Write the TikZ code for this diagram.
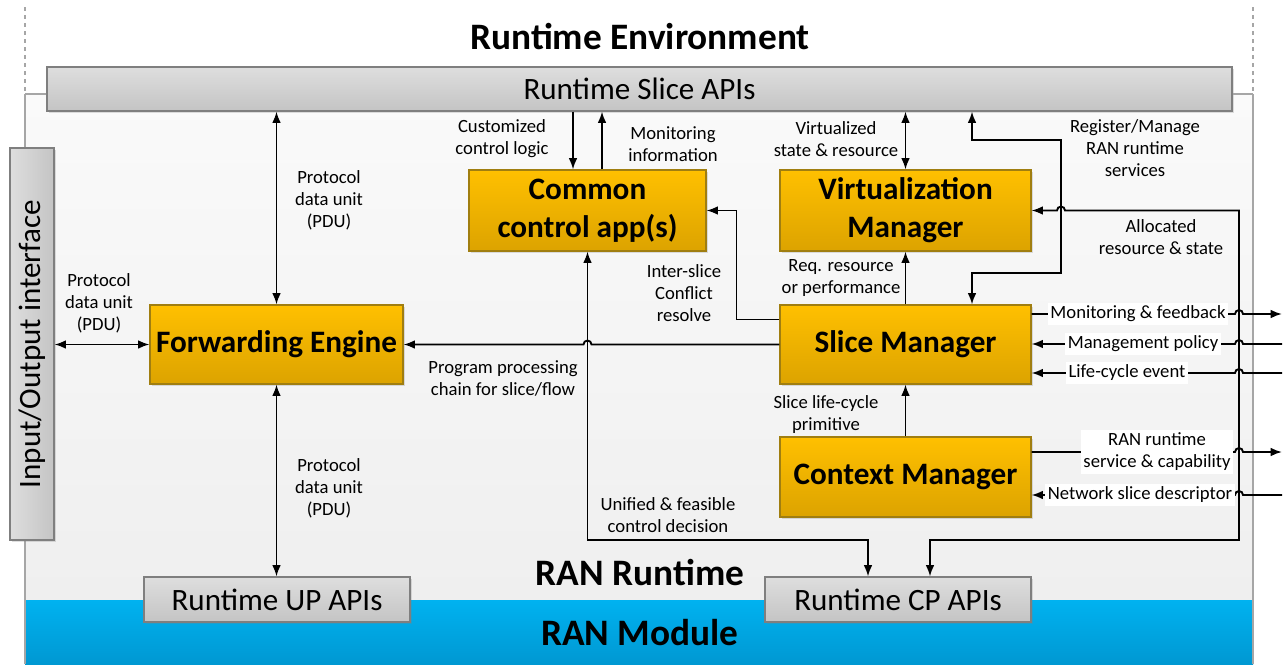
\documentclass[tikz,border=0pt]{standalone}
\usepackage{fontspec}
\setmainfont{Carlito}
\usetikzlibrary{arrows.meta,calc,shadows}

\definecolor{boxtop}{HTML}{FFC000}
\definecolor{boxbot}{HTML}{DCA300}
\definecolor{boxline}{HTML}{A07E10}
\definecolor{apitop}{HTML}{DEDEDE}
\definecolor{apibot}{HTML}{C4C4C4}
\definecolor{apiline}{HTML}{7F7F7F}
\definecolor{modtop}{HTML}{00B2F0}
\definecolor{modbot}{HTML}{0098D2}
\definecolor{rttop}{HTML}{FAFAFA}
\definecolor{rtbot}{HTML}{EFEFEF}
\definecolor{edgegray}{HTML}{A6A6A6}

\tikzset{
  mgrbox/.style={draw=boxline, line width=0.8pt, top color=boxtop, bottom color=boxbot,
    font=\fontsize{23.4}{28.5}\selectfont\bfseries, align=center, inner sep=0pt,
    drop shadow={opacity=0.25, shadow xshift=1.5pt, shadow yshift=-1.5pt}},
  apibox/.style={draw=apiline, line width=0.8pt, top color=apitop, bottom color=apibot,
    font=\fontsize{23.3}{28}\selectfont, inner sep=0pt,
    drop shadow={opacity=0.25, shadow xshift=1.5pt, shadow yshift=-1.5pt}},
  lbl/.style={font=\fontsize{14}{16.5}\selectfont, align=center, inner sep=1pt},
  wlbl/.style={lbl, fill=white, inner sep=2pt},
  conn/.style={line width=1.4pt, black},
  title/.style={font=\fontsize{28}{32}\selectfont\bfseries},
  edge/.style={edgegray, line width=0.8pt}
}

\begin{document}
\begin{tikzpicture}[x=0.75pt,y=0.75pt,yscale=-1,xscale=1, >={Latex[length=8.5pt,width=6.5pt]}]
\useasboundingbox (0,0) rectangle (1288,664);

%Runtime area
\shade[top color=rttop, bottom color=rtbot] (25,94) rectangle (1253,600);
%RAN module
\shade[top color=modtop, bottom color=modbot] (25,600) rectangle (1253,664);
%Borders
\draw[edge] (25,94) -- (25,664);
\draw[edge] (1253,94) -- (1253,664);
\draw[edge, dashed] (25,7) -- (25,94);
\draw[edge, dashed] (1253,7) -- (1253,94);

% Text Node
\draw (640,37) node[title] (envtitle) {Runtime Environment};
% Text Node
\draw (640,573) node[title] (rttitle) {RAN Runtime};
% Text Node
\draw (640,633) node[title] (modtitle) {RAN Module};

%APIs
\node[apibox, minimum width=888.75pt, minimum height=33pt] (slicebar) at (639.5,89) {Runtime Slice APIs};
\node[apibox, minimum width=199.5pt, minimum height=33.75pt] (upapi) at (277,599.5) {Runtime UP APIs};
\node[apibox, minimum width=199.5pt, minimum height=33.75pt] (cpapi) at (898,599.5) {Runtime CP APIs};
\node[apibox, left color=apitop, right color=apibot, minimum width=33pt, minimum height=294pt] (io) at (32,344) {\rotatebox{90}{Input/Output interface}};

\draw[edge] ($(slicebar.west)+(0,5)$) -- (25,94);
\draw[edge] ($(slicebar.east)+(0,5)$) -- (1253,94);

%Managers
\node[mgrbox, minimum width=189.75pt, minimum height=59.25pt] (fwd) at (276.5,344.5) {Forwarding Engine};
\node[mgrbox, minimum width=177.75pt, minimum height=60.75pt] (common) at (587.5,210.5) {Common\\control app(s)};
\node[mgrbox, minimum width=188.25pt, minimum height=60.75pt] (virt) at (905.5,210.5) {Virtualization\\Manager};
\node[mgrbox, minimum width=188.25pt, minimum height=59.25pt] (slice) at (905.5,344.5) {Slice Manager};
\node[mgrbox, minimum width=188.25pt, minimum height=60pt] (ctx) at (905.5,477) {Context Manager};

\coordinate (bus) at (1239,540);
\coordinate (regtop) at (1061,140);
\coordinate (regbot) at (1061,273);
\coordinate (mfb) at (1282,314);
\coordinate (mpol) at (1282,344);
\coordinate (lce) at (1282,373);
\coordinate (rsc) at (1282,452);
\coordinate (nsd) at (1282,495);

%PDU paths
\draw[conn,<->] (slicebar.south -| fwd.north) -- (fwd.north);
\draw[conn,<->] (fwd.south) -- (upapi.north -| fwd.south);
\draw[conn,<->] (io.east |- fwd.west) -- (fwd.west);

%Control app
\draw[conn,->] ($(slicebar.south -| common.north)+(-14.5,0)$) -- ($(common.north)+(-14.5,0)$);
\draw[conn,->] ($(common.north)+(14.5,0)$) -- ($(slicebar.south -| common.north)+(14.5,0)$);
\draw[conn,<->] (common.south) -- (common.south |- bus) -| ($(cpapi.north)+(-30,0)$);
\draw[conn,->] ($(slice.north west)+(0,15)$) -| ($(common.east)+(30,0)$) -- (common.east);
\draw[conn,->] (slice.west) -- ($(slice.west -| common.south)+(4,0)$) arc[start angle=0,end angle=-180,radius=4] -- (fwd.east);

%Virtualization
\draw[conn,<->] (slicebar.south -| virt.north) -- (virt.north);
\draw[conn,->] (slice.north) -- (virt.south);
\draw[conn,->] (ctx.north) -- (slice.south);
\draw[conn,<->] ($(slicebar.south -| slice.north)+(66.5,0)$) |- (regtop) -- (regbot) -| ($(slice.north)+(66.5,0)$);
\draw[conn,<->] (virt.east) -- ($(virt.east -| regtop)+(-4,0)$) arc[start angle=180,end angle=360,radius=4] -- (virt.east -| bus) -- (bus) -| ($(cpapi.north)+(32,0)$);

%Outside
\draw[conn,->] (slice.east |- mfb) -- ($(bus |- mfb)+(-4,0)$) arc[start angle=180,end angle=360,radius=4] -- (mfb);
\draw[conn,->] (mpol) -- ($(bus |- mpol)+(4,0)$) arc[start angle=0,end angle=-180,radius=4] -- (slice.east |- mpol);
\draw[conn,->] (lce) -- ($(bus |- lce)+(4,0)$) arc[start angle=0,end angle=-180,radius=4] -- (slice.east |- lce);
\draw[conn,->] (ctx.east |- rsc) -- ($(bus |- rsc)+(-4,0)$) arc[start angle=180,end angle=360,radius=4] -- (rsc);
\draw[conn,->] (nsd) -- ($(bus |- nsd)+(4,0)$) arc[start angle=0,end angle=-180,radius=4] -- (ctx.east |- nsd);

% Text Node
\draw (329,200) node[lbl] (pdutop) {Protocol\\data unit\\(PDU)};
% Text Node
\draw (329,488) node[lbl] (pdubot) {Protocol\\data unit\\(PDU)};
% Text Node
\draw (99,303) node[lbl] (pduio) {Protocol\\data unit\\(PDU)};
% Text Node
\draw (502,139) node[lbl] (custlbl) {Customized\\control logic};
% Text Node
\draw (673,144) node[lbl] (monlbl) {Monitoring\\information};
% Text Node
\draw (836,139) node[lbl] (virtlbl) {Virtualized\\state \& resource};
% Text Node
\draw (1135,148) node[lbl] (reglbl) {Register/Manage\\RAN runtime\\services};
% Text Node
\draw (1161,237) node[lbl] (alloclbl) {Allocated\\resource \& state};
% Text Node
\draw (684,293) node[lbl] (conflbl) {Inter-slice\\Conflict\\resolve};
% Text Node
\draw (841,278) node[lbl] (reqlbl) {Req. resource\\or performance};
% Text Node
\draw (503,378) node[lbl] (proglbl) {Program processing\\chain for slice/flow};
% Text Node
\draw (826,415) node[lbl] (lifelbl) {Slice life-cycle\\primitive};
% Text Node
\draw (668,515) node[lbl] (unilbl) {Unified \& feasible\\control decision};
% Text Node
\draw (1138,314) node[wlbl] (mfblbl) {Monitoring \& feedback};
% Text Node
\draw (1143,344) node[wlbl] (mpollbl) {Management policy};
% Text Node
\draw (1127,373) node[wlbl] (lcelbl) {Life-cycle event};
% Text Node
\draw (1157,452) node[wlbl] (rsclbl) {RAN runtime\\service \& capability};
% Text Node
\draw (1140,495) node[wlbl] (nsdlbl) {Network slice descriptor};

\end{tikzpicture}
\end{document}
